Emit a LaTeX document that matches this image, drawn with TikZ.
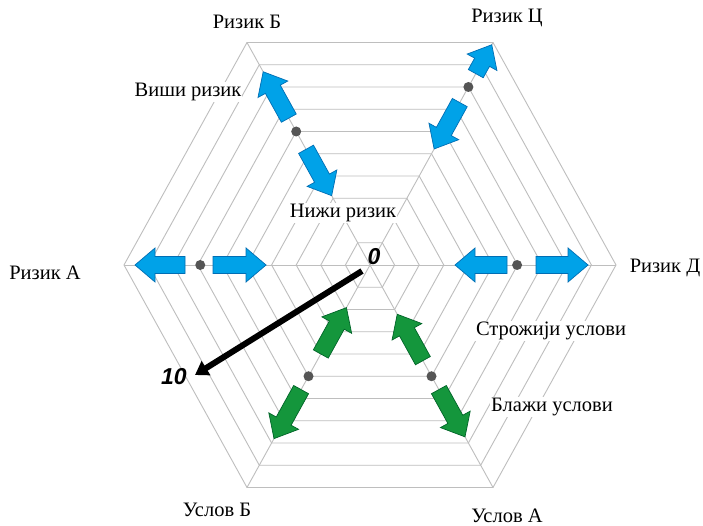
\documentclass[tikz,border=0pt]{standalone}
\usepackage{fontspec}
\setmainfont{Liberation Serif}
\newfontfamily\numfont{Liberation Sans}
\usetikzlibrary{calc,arrows.meta}

\definecolor{gridgray}{RGB}{190,190,190}
\definecolor{arrblue}{RGB}{0,162,232}
\definecolor{arrblueD}{RGB}{0,110,180}
\definecolor{arrgreen}{RGB}{20,150,60}
\definecolor{arrgreenD}{RGB}{0,100,40}
\definecolor{dotgray}{RGB}{85,85,85}

\begin{document}
\begin{tikzpicture}[x=1pt,y=1pt,
  hexgrid/.style={draw=gridgray, line width=0.9pt},
  lbl/.style={font=\rmfamily\fontsize{20.5}{23}\selectfont, inner sep=1pt},
  lblw/.style={lbl, fill=white},
  numlbl/.style={font=\numfont\bfseries\itshape\fontsize{23}{25}\selectfont, inner sep=0pt},
  bluearr/.style={fill=arrblue, draw=arrblueD, line width=0.7pt, line join=miter},
  greenarr/.style={fill=arrgreen, draw=arrgreenD, line width=0.7pt, line join=miter},
  axdot/.style={circle, fill=dotgray, inner sep=0pt, minimum size=10pt},
  pics/barrow/.style={code={
    \path[pic actions] (0,-8.5) -- ({#1-20},-8.5) -- ({#1-20},-17) -- (#1,0)
      -- ({#1-20},17) -- ({#1-20},8.5) -- (0,8.5) -- cycle;}}
]
\path[fill=white] (-370,-261) rectangle (333,265);
\useasboundingbox (-370,-261) rectangle (333,265);

\coordinate (O) at (0,0);
\coordinate (vA) at (-246,0);
\coordinate (vB) at (-123,222.5);
\coordinate (vC) at (123,222.5);
\coordinate (vD) at (246,0);
\coordinate (vUA) at (123,-222.5);
\coordinate (vUB) at (-123,-222.5);

% grid
\foreach \k in {1,...,10}{
  \draw[hexgrid, scale=\k/10] (-246,0) -- (-123,222.5) -- (123,222.5) -- (246,0)
    -- (123,-222.5) -- (-123,-222.5) -- cycle;
}
\foreach \v in {vA,vB,vC,vD,vUA,vUB}{
  \draw[hexgrid] (O) -- (\v);
}

% labels
\node[lbl] (tB) at (-123,243) {Ризик Б};
\node[lbl] (tC) at (137,247) {Ризик Ц};
\node[lblw] (tHi) at (-182,173) {Виши ризик};
\node[lblw] (tLo) at (-27,52) {Нижи ризик};
\node[lbl] (tA) at (-325,-8) {Ризик А};
\node[lbl] (tD) at (295,-3) {Ризик Д};
\node[lblw] (tStr) at (181,-66) {Строжији услови};
\node[lblw] (tBl) at (182,-142) {Блажи услови};
\node[lbl] (tUB) at (-153,-245) {Услов Б};
\node[lbl] (tUA) at (137,-251) {Услов А};

% blue arrows
\pic[bluearr, rotate=180] at ($(O)!0.752!(vA)$) {barrow=50};
\pic[bluearr, rotate=0] at ($(O)!0.638!(vA)$) {barrow=53};
\pic[bluearr, rotate=180] at ($(O)!0.557!(vD)$) {barrow=52};
\pic[bluearr, rotate=0] at ($(O)!0.675!(vD)$) {barrow=52};
\pic[bluearr, rotate=118.94] at ($(O)!0.66!(vB)$) {barrow=53};
\pic[bluearr, rotate=-61.06] at ($(O)!0.52!(vB)$) {barrow=53};
\pic[bluearr, rotate=61.06] at ($(O)!0.86!(vC)$) {barrow=33};
\pic[bluearr, rotate=241.06] at ($(O)!0.73!(vC)$) {barrow=53};
% green arrows
\pic[greenarr, rotate=241.06] at ($(O)!0.56!(vUB)$) {barrow=56};
\pic[greenarr, rotate=61.06] at ($(O)!0.40!(vUB)$) {barrow=53};
\pic[greenarr, rotate=-61.06] at ($(O)!0.56!(vUA)$) {barrow=54};
\pic[greenarr, rotate=118.94] at ($(O)!0.43!(vUA)$) {barrow=53};

% dots
\node[axdot] (dA) at ($(O)!0.69!(vA)$) {};
\node[axdot] (dD) at ($(O)!0.598!(vD)$) {};
\node[axdot] (dB) at ($(O)!0.6!(vB)$) {};
\node[axdot] (dC) at ($(O)!0.8!(vC)$) {};
\node[axdot] (dUB) at ($(O)!0.5!(vUB)$) {};
\node[axdot] (dUA) at ($(O)!0.5!(vUA)$) {};

% scale arrow
\coordinate (k0) at (-8,-6);
\coordinate (k10) at (-175,-110);
\draw[line width=6pt, -{Triangle[length=13pt,width=16pt]}] (k0) -- (k10);
\node[numlbl] (n0) at (4,8) {0};
\node[numlbl] (n10) at (-196,-112) {10};
\end{tikzpicture}
\end{document}
